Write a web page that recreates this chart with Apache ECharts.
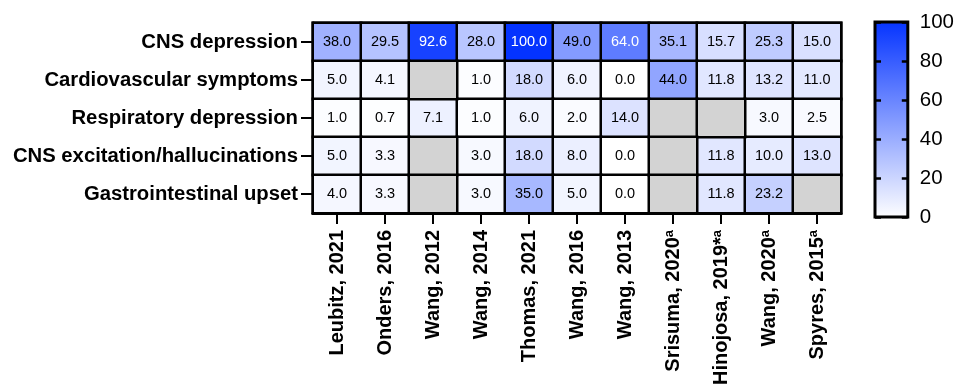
<!DOCTYPE html>
<html>
<head>
<meta charset="utf-8">
<script src="https://cdn.jsdelivr.net/npm/echarts@6/dist/echarts.min.js"></script>
<style>
  html, body { margin: 0; padding: 0; background: #fff; }
  #chart { width: 957px; height: 388px; }
</style>
</head>
<body>
<div id="chart"></div>
<script>
// Study columns (left to right) and their footnote markers
const studies = ['Leubitz, 2021', 'Onders, 2016', 'Wang, 2012', 'Wang, 2014', 'Thomas, 2021',
  'Wang, 2016', 'Wang, 2013', 'Srisuma, 2020', 'Hinojosa, 2019*', 'Wang, 2020', 'Spyres, 2015'];
const studyNotes = ['', '', '', '', '', '', '', 'a', 'a', 'a', 'a'];

// Symptom rows (top to bottom)
const symptoms = ['CNS depression', 'Cardiovascular symptoms', 'Respiratory depression',
  'CNS excitation/hallucinations', 'Gastrointestinal upset'];

// Percent of patients per symptom, one array per row; null = not reported
const cnsDepression = [38.0, 29.5, 92.6, 28.0, 100.0, 49.0, 64.0, 35.1, 15.7, 25.3, 15.0];
const cardiovascular = [5.0, 4.1, null, 1.0, 18.0, 6.0, 0.0, 44.0, 11.8, 13.2, 11.0];
const respiratory = [1.0, 0.7, 7.1, 1.0, 6.0, 2.0, 14.0, null, null, 3.0, 2.5];
const cnsExcitation = [5.0, 3.3, null, 3.0, 18.0, 8.0, 0.0, null, 11.8, 10.0, 13.0];
const gastro = [4.0, 3.3, null, 3.0, 35.0, 5.0, 0.0, null, 11.8, 23.2, null];

// Colour scale: 0 -> white, 100 -> blue
const scaleMin = 0;
const scaleMax = 100;
const scaleStep = 20;
const lowColor = '#ffffff';
const highColor = '#0433ff';

const rows = [cnsDepression, cardiovascular, respiratory, cnsExcitation, gastro];
const reported = [];
const missing = [];
rows.forEach((row, yi) => {
  row.forEach((v, xi) => {
    if (v === null) {
      missing.push([xi, yi, 0]);
    } else {
      reported.push({
        value: [xi, yi, v],
        label: { color: v > 55 ? '#ffffff' : '#000000' }
      });
    }
  });
});

const FONT = '"Liberation Sans", Arial, Helvetica, sans-serif';
const TICK_LEN = 6;

const chart = echarts.init(document.getElementById('chart'), null, { renderer: 'canvas' });

const colorbarFill = new echarts.graphic.LinearGradient(0, 0, 0, 1, [
  { offset: 0, color: highColor },
  { offset: 1, color: lowColor }
]);

// Colour-bar ticks: each axis is shifted into the bar so its outward ticks end on the frame
const cbTicks = {
  show: true, inside: false, length: TICK_LEN,
  lineStyle: { color: '#000', width: 2.5 }
};

chart.setOption({
  backgroundColor: '#ffffff',
  animation: false,
  textStyle: { fontFamily: FONT },
  grid: [
    { left: 313, top: 23, width: 528, height: 192, show: true, borderColor: '#000', borderWidth: 3, backgroundColor: 'transparent' },
    { left: 875, top: 22, width: 33, height: 195, show: true, borderColor: '#000', borderWidth: 3, backgroundColor: colorbarFill }
  ],
  xAxis: [
    {
      type: 'category', gridIndex: 0, data: studies, position: 'bottom',
      axisLine: { show: true, lineStyle: { color: '#000', width: 3 } },
      axisTick: { show: true, alignWithLabel: true, length: 11, lineStyle: { color: '#000', width: 2 } },
      axisLabel: {
        rotate: 90, margin: 17, interval: 0, color: '#000',
        fontFamily: FONT, fontWeight: 'bold', fontSize: 20,
        formatter: (name) => {
          const note = studyNotes[studies.indexOf(name)];
          return note ? name + '{sup|' + note + '}' : name;
        },
        rich: {
          sup: { fontFamily: FONT, fontWeight: 'bold', fontSize: 13, verticalAlign: 'top', lineHeight: 13, color: '#000' }
        }
      },
      splitLine: { show: false }
    },
    { type: 'category', gridIndex: 1, show: false, data: ['scale'] }
  ],
  yAxis: [
    {
      type: 'category', gridIndex: 0, data: symptoms, inverse: true,
      axisLine: { show: true, lineStyle: { color: '#000', width: 3 } },
      axisTick: { show: true, alignWithLabel: true, length: 12, lineStyle: { color: '#000', width: 2 } },
      axisLabel: { margin: 15, color: '#000', fontFamily: FONT, fontWeight: 'bold', fontSize: 20.3 },
      splitLine: { show: false }
    },
    {
      type: 'value', gridIndex: 1, position: 'right', offset: -TICK_LEN, z: 5,
      min: scaleMin, max: scaleMax, interval: scaleStep,
      axisLine: { show: false, onZero: false },
      axisTick: cbTicks,
      axisLabel: { margin: 12 + TICK_LEN, color: '#000', fontFamily: FONT, fontSize: 20.5 },
      splitLine: { show: false }
    },
    {
      type: 'value', gridIndex: 1, position: 'left', offset: -TICK_LEN, z: 5,
      min: scaleMin, max: scaleMax, interval: scaleStep,
      axisLine: { show: false, onZero: false },
      axisTick: cbTicks,
      axisLabel: { show: false },
      splitLine: { show: false }
    }
  ],
  visualMap: {
    type: 'continuous', min: scaleMin, max: scaleMax, seriesIndex: 0,
    calculable: false, show: false,
    inRange: { color: [lowColor, highColor] }
  },
  series: [
    {
      type: 'heatmap', xAxisIndex: 0, yAxisIndex: 0, data: reported,
      itemStyle: { borderColor: '#000', borderWidth: 2.5 },
      label: {
        show: true, fontFamily: FONT, fontSize: 14.5,
        formatter: p => p.value[2].toFixed(1)
      },
      emphasis: { disabled: true }
    },
    {
      type: 'heatmap', xAxisIndex: 0, yAxisIndex: 0, data: missing,
      itemStyle: { color: '#d3d3d3', borderColor: '#000', borderWidth: 2.5 },
      label: { show: false },
      emphasis: { disabled: true }
    }
  ]
});
</script>
</body>
</html>
